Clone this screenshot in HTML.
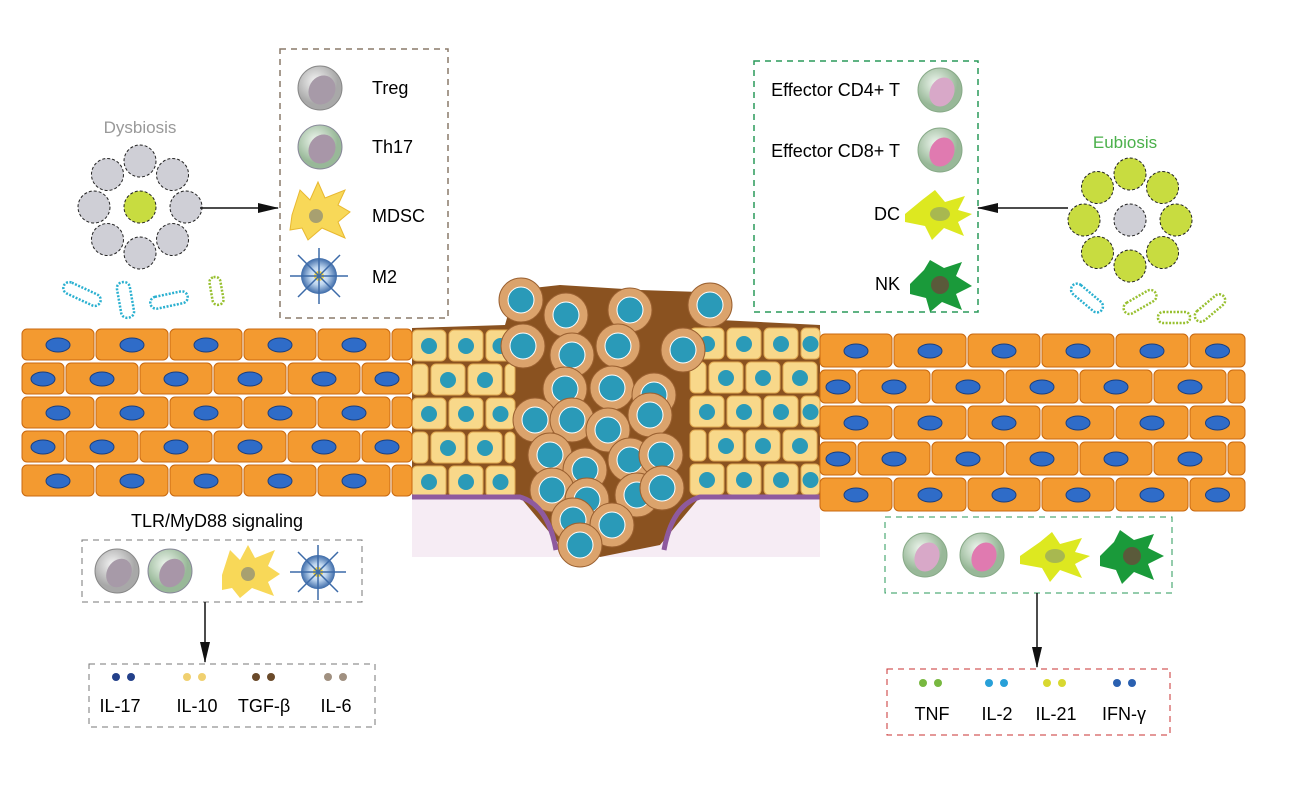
<!DOCTYPE html>
<html><head><meta charset="utf-8"><style>
html,body{margin:0;padding:0;background:#fff}
svg{display:block}
text{font-family:"Liberation Sans",Arial,sans-serif}
</style></head><body>
<svg id="s" width="1300" height="788" viewBox="0 0 1300 788" xmlns="http://www.w3.org/2000/svg">
<defs>
<marker id="ah" markerWidth="22" markerHeight="10" refX="20" refY="5" orient="auto" markerUnits="userSpaceOnUse"><path d="M0,0 L21,5 L0,10z" fill="#111"/></marker>
<radialGradient id="gT" cx="40%" cy="35%"><stop offset="0" stop-color="#f4f4f4"/><stop offset="1" stop-color="#a8a8a8"/></radialGradient>
<radialGradient id="gG" cx="40%" cy="35%"><stop offset="0" stop-color="#eef6ee"/><stop offset="1" stop-color="#98b898"/></radialGradient>
<radialGradient id="gM" cx="50%" cy="50%"><stop offset="0" stop-color="#ffffff"/><stop offset="0.5" stop-color="#bcd4ee"/><stop offset="1" stop-color="#3c6aa8"/></radialGradient>
</defs>
<g id="bg"></g>
<rect x="412" y="495" width="408" height="62" fill="#f6ecf4"/>
<g id="tumor"></g>
<path d="M412,497 L520,497 Q548,505 556,550 M820,497 L700,497 Q672,505 664,550" stroke="#8e5a9e" stroke-width="5" fill="none"/>
<g id="epi"></g>

<rect x="280" y="49" width="168" height="269" fill="none" stroke="#8a7a6a" stroke-width="1.5" stroke-dasharray="6,5"/>
<circle cx="320" cy="88" r="22" fill="url(#gT)" stroke="#888"/><ellipse cx="322" cy="90" rx="13" ry="15" fill="#a79aa8" transform="rotate(30 322 90)"/>
<circle cx="320" cy="147" r="22" fill="url(#gG)" stroke="#889"/><ellipse cx="322" cy="149" rx="13" ry="15" fill="#a896a8" transform="rotate(30 322 149)"/>
<path d="M292,215 L300,190 L310,200 L318,182 L325,198 L345,190 L338,205 L350,212 L338,222 L345,238 L322,228 L308,240 L302,228 L290,230 Z" fill="#f8d858" stroke="#e8b830"/>
<circle cx="316" cy="216" r="7" fill="#a8a070"/>
<circle cx="319" cy="276" r="18" fill="url(#gM)"/><circle cx="319" cy="276" r="5" fill="#f0d040"/>
<g stroke="#3c6aa8" stroke-width="1.5"><line x1="290" y1="276" x2="348" y2="276"/><line x1="319" y1="248" x2="319" y2="304"/><line x1="298" y1="255" x2="340" y2="297"/><line x1="298" y1="297" x2="340" y2="255"/></g>
<text x="372" y="94" font-size="18">Treg</text>
<text x="372" y="153" font-size="18">Th17</text>
<text x="372" y="222" font-size="18">MDSC</text>
<text x="372" y="283" font-size="18">M2</text>

<rect x="754" y="61" width="224" height="251" fill="none" stroke="#2a9a5a" stroke-width="1.5" stroke-dasharray="6,5"/>
<text x="900" y="96" font-size="18" text-anchor="end">Effector CD4+ T</text>
<text x="900" y="157" font-size="18" text-anchor="end">Effector CD8+ T</text>
<text x="900" y="220" font-size="18" text-anchor="end">DC</text>
<text x="900" y="290" font-size="18" text-anchor="end">NK</text>
<circle cx="940" cy="90" r="22" fill="url(#gG)" stroke="#8a8"/><ellipse cx="942" cy="92" rx="12" ry="15" fill="#d8a8c8" transform="rotate(25 942 92)"/>
<circle cx="940" cy="150" r="22" fill="url(#gG)" stroke="#8a8"/><ellipse cx="942" cy="152" rx="12" ry="15" fill="#e07ab0" transform="rotate(25 942 152)"/>
<path d="M905,214 L922,200 L935,190 L945,202 L965,196 L958,210 L972,214 L958,222 L964,236 L944,228 L932,240 L925,226 L905,222Z" fill="#dde820"/><ellipse cx="940" cy="214" rx="10" ry="7" fill="#a8b850"/>
<path d="M910,284 L924,270 L930,260 L944,268 L962,262 L956,276 L972,286 L956,294 L962,310 L942,302 L930,312 L926,298 L910,294Z" fill="#1a9a3a"/><circle cx="940" cy="285" r="9" fill="#5a5a3a"/>

<text x="140" y="133" font-size="17" fill="#999" text-anchor="middle">Dysbiosis</text>
<g id="dys"></g>
<line x1="200" y1="208" x2="278" y2="208" stroke="#111" stroke-width="1.5" marker-end="url(#ah)"/>
<text x="1125" y="148" font-size="17" fill="#4ab04a" text-anchor="middle">Eubiosis</text>
<g id="eub"></g>
<line x1="1068" y1="208" x2="978" y2="208" stroke="#111" stroke-width="1.5" marker-end="url(#ah)"/>

<g fill="#fff" stroke-width="2.5" stroke-dasharray="2,1.5">
<rect x="62" y="288" width="40" height="12" rx="6" stroke="#2ab0d0" transform="rotate(25 82 294)"/>
<rect x="119" y="282" width="13" height="36" rx="6" stroke="#2ab0d0" transform="rotate(-10 125 300)"/>
<rect x="150" y="294" width="38" height="12" rx="6" stroke="#2ab0d0" transform="rotate(-12 169 300)"/>
<rect x="211" y="277" width="11" height="28" rx="5" stroke="#98c030" transform="rotate(-10 216 291)"/>
<rect x="1068" y="292" width="38" height="12" rx="6" stroke="#2ab0d0" transform="rotate(40 1087 298)"/>
<rect x="1122" y="296" width="36" height="12" rx="6" stroke="#98c030" transform="rotate(-30 1140 302)"/>
<rect x="1158" y="312" width="32" height="11" rx="5" stroke="#98c030"/>
<rect x="1192" y="302" width="36" height="12" rx="6" stroke="#98c030" transform="rotate(-40 1210 308)"/>
</g>

<text x="217" y="527" font-size="18" text-anchor="middle">TLR/MyD88 signaling</text>
<rect x="82" y="540" width="280" height="62" fill="none" stroke="#777" stroke-dasharray="6,5"/>
<circle cx="117" cy="571" r="22" fill="url(#gT)" stroke="#888"/><ellipse cx="119" cy="573" rx="12" ry="15" fill="#a79aa8" transform="rotate(30 119 573)"/>
<circle cx="170" cy="571" r="22" fill="url(#gG)" stroke="#889"/><ellipse cx="172" cy="573" rx="12" ry="15" fill="#a896a8" transform="rotate(30 172 573)"/>
<path d="M222,575 L230,550 L240,560 L248,545 L255,558 L275,550 L268,566 L280,574 L268,582 L274,596 L252,588 L240,598 L232,588 L222,590Z" fill="#f8d858"/><circle cx="248" cy="574" r="7" fill="#a8a070"/>
<circle cx="318" cy="572" r="17" fill="url(#gM)"/><circle cx="318" cy="572" r="5" fill="#f0d040"/>
<g stroke="#3c6aa8" stroke-width="1.5"><line x1="290" y1="572" x2="346" y2="572"/><line x1="318" y1="545" x2="318" y2="600"/><line x1="298" y1="552" x2="338" y2="592"/><line x1="298" y1="592" x2="338" y2="552"/></g>
<line x1="205" y1="602" x2="205" y2="662" stroke="#111" stroke-width="1.5" marker-end="url(#ah)"/>
<rect x="89" y="664" width="286" height="63" fill="none" stroke="#777" stroke-dasharray="6,5"/>
<circle cx="116" cy="677" r="4" fill="#23408a"/><circle cx="131" cy="677" r="4" fill="#23408a"/>
<circle cx="187" cy="677" r="4" fill="#f0d070"/><circle cx="202" cy="677" r="4" fill="#f0d070"/>
<circle cx="256" cy="677" r="4" fill="#6a4a2a"/><circle cx="271" cy="677" r="4" fill="#6a4a2a"/>
<circle cx="328" cy="677" r="4" fill="#a09080"/><circle cx="343" cy="677" r="4" fill="#a09080"/>
<text x="120" y="712" font-size="18" text-anchor="middle">IL-17</text>
<text x="197" y="712" font-size="18" text-anchor="middle">IL-10</text>
<text x="264" y="712" font-size="18" text-anchor="middle">TGF-β</text>
<text x="336" y="712" font-size="18" text-anchor="middle">IL-6</text>

<rect x="885" y="517" width="287" height="76" fill="none" stroke="#2a9a5a" stroke-dasharray="6,5"/>
<circle cx="925" cy="555" r="22" fill="url(#gG)" stroke="#8a8"/><ellipse cx="927" cy="557" rx="12" ry="15" fill="#d8a8c8" transform="rotate(25 927 557)"/>
<circle cx="982" cy="555" r="22" fill="url(#gG)" stroke="#8a8"/><ellipse cx="984" cy="557" rx="12" ry="15" fill="#e07ab0" transform="rotate(25 984 557)"/>
<path d="M1020,556 L1040,542 L1052,532 L1060,544 L1082,538 L1075,552 L1090,556 L1075,564 L1082,578 L1060,570 L1050,582 L1042,568 L1020,564Z" fill="#dde820"/><ellipse cx="1055" cy="556" rx="10" ry="7" fill="#a8b850"/>
<path d="M1100,556 L1114,542 L1120,530 L1134,540 L1154,534 L1148,548 L1164,556 L1148,564 L1154,580 L1134,572 L1122,584 L1116,570 L1100,566Z" fill="#1a9a3a"/><circle cx="1132" cy="556" r="9" fill="#5a5a3a"/>
<line x1="1037" y1="593" x2="1037" y2="667" stroke="#111" stroke-width="1.5" marker-end="url(#ah)"/>
<rect x="887" y="669" width="283" height="66" fill="none" stroke="#c83030" stroke-dasharray="6,5"/>
<circle cx="923" cy="683" r="4" fill="#78b840"/><circle cx="938" cy="683" r="4" fill="#78b840"/>
<circle cx="989" cy="683" r="4" fill="#28a0d8"/><circle cx="1004" cy="683" r="4" fill="#28a0d8"/>
<circle cx="1047" cy="683" r="4" fill="#d8d830"/><circle cx="1062" cy="683" r="4" fill="#d8d830"/>
<circle cx="1117" cy="683" r="4" fill="#2a60b0"/><circle cx="1132" cy="683" r="4" fill="#2a60b0"/>
<text x="932" y="720" font-size="18" text-anchor="middle">TNF</text>
<text x="997" y="720" font-size="18" text-anchor="middle">IL-2</text>
<text x="1056" y="720" font-size="18" text-anchor="middle">IL-21</text>
<text x="1124" y="720" font-size="18" text-anchor="middle">IFN-γ</text>
</svg>
<script>
var NS="http://www.w3.org/2000/svg";
function el(p,t,a){var e=document.createElementNS(NS,t);for(var k in a)e.setAttribute(k,a[k]);p.appendChild(e);return e;}
var epi=document.getElementById("epi"),tum=document.getElementById("tumor");
function band(x0,x1,y0,rows,rh,cw,off){
 for(var r=0;r<rows;r++){var y=y0+r*rh;var o=(r%2)?off:0;
  for(var x=x0-o;x<x1;x+=cw){var xa=Math.max(x,x0),xb=Math.min(x+cw-2,x1);if(xb-xa<6)continue;
   el(epi,"rect",{x:xa,y:y+1,width:xb-xa,height:rh-3,rx:5,fill:"#f39a30",stroke:"#c86810","stroke-width":1});
   var cx=(xa+xb)/2; if(xb-xa>20)el(epi,"ellipse",{cx:cx,cy:y+rh/2,rx:12,ry:7,fill:"#2f6cc8",stroke:"#1a3f80","stroke-width":1});}}
}
band(22,412,328,5,34,74,30);
band(820,1245,333,5,36,74,36);
el(tum,"path",{d:"M412,328 L505,325 L515,290 L560,285 L640,290 L700,292 L720,320 L820,325 L820,497 L700,497 L660,545 L600,557 L560,545 L520,497 L412,497Z",fill:"#8a5220"});
function ycells(x0,x1,y0,y1,cw,off){for(var r=0;y0+r*34<y1;r++){var y=y0+r*34,o=(r%2)?off:0;
 for(var x=x0-o;x<x1;x+=cw){var xa=Math.max(x,x0),xb=Math.min(x+cw-3,x1);if(xb-xa<8)continue;
 el(tum,"rect",{x:xa,y:y,width:xb-xa,height:31,rx:5,fill:"#f8d88a",stroke:"#e0a850"});
 if(xb-xa>18)el(tum,"circle",{cx:(xa+xb)/2,cy:y+16,r:8,fill:"#2a9ab8"});}}}
ycells(412,515,330,497,37,18);
ycells(690,820,328,497,37,18);
var big=[[521,300],[566,315],[630,310],[710,305],[523,346],[572,355],[618,346],[683,350],[565,389],[612,388],[654,395],[535,420],[572,420],[608,430],[650,415],[550,455],[585,470],[630,460],[661,455],[552,490],[587,500],[637,495],[662,488],[573,520],[612,525],[580,545]];
big.forEach(function(p){el(tum,"circle",{cx:p[0],cy:p[1],r:22,fill:"#dba36c",stroke:"#9a6030"});el(tum,"circle",{cx:p[0],cy:p[1],r:13,fill:"#2a9ab8",stroke:"#fff","stroke-width":1});});
function cluster(g,cx,cy,outFill,inFill){var G=document.getElementById(g);
 for(var i=0;i<8;i++){var a=i*Math.PI/4;el(G,"circle",{cx:cx+46*Math.cos(a),cy:cy+46*Math.sin(a),r:16,fill:outFill,stroke:"#222","stroke-dasharray":"3,2"});}
 el(G,"circle",{cx:cx,cy:cy,r:16,fill:inFill,stroke:"#222","stroke-dasharray":"3,2"});}
cluster("dys",140,207,"#cfcfd6","#c8dc40");
cluster("eub",1130,220,"#c8dc40","#cfcfd6");
</script>
</body></html>
